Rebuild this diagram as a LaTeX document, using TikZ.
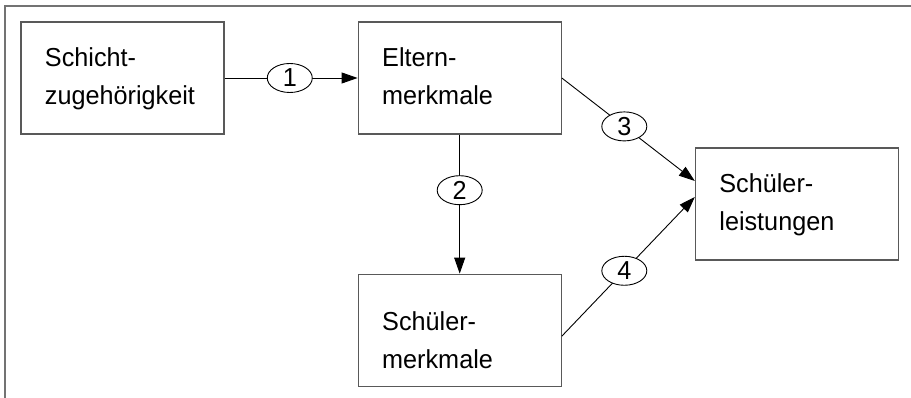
\documentclass[tikz,border=0pt]{standalone}
\usepackage{fontspec}
\setmainfont{Liberation Sans}[FakeStretch=0.97]
\usetikzlibrary{positioning,shapes.geometric,arrows.meta}

\newcommand{\diagfont}{\fontsize{26}{38}\selectfont}

\begin{document}
\begin{tikzpicture}[
    x=1pt, y=1pt,
    node distance=133pt,
    box/.style={rectangle, draw=black!65, line width=1.2pt, minimum width=203pt, minimum height=112pt,
        inner xsep=24pt, text width=155pt, align=left, font=\diagfont,
        execute at begin node=\strut, execute at end node=\strut},
    lowbox/.style={box, execute at begin node=\rule{0pt}{49.4pt}},
    num/.style={ellipse, draw, fill=white, line width=0.9pt, minimum width=45pt, minimum height=29pt,
        inner sep=0pt, font=\diagfont},
    arrow/.style={-{Triangle[length=16pt,width=11pt]}, line width=0.9pt},
    frame/.style={draw=black!55, line width=1.6pt}
]
    \useasboundingbox (0,0) rectangle (911,398);

    % Frame
    \draw[frame] (5,0) -- (5,392) -- (911,392);

    % Boxes
    \node[box] (schicht) at (122.5,320) {Schicht-\\zugehörigkeit};
    \node[box, right=of schicht] (eltern) {Eltern-\\merkmale};
    \node[lowbox, below=139pt of eltern] (schueler) {Schüler-\\merkmale};
    \node[box, right=of eltern, yshift=-126pt] (leistung) {Schüler-\\leistungen};

    % Arrows
    \draw[arrow] (schicht) -- node[num, pos=0.49] {1} (eltern);
    \draw[arrow] (eltern) -- node[num, pos=0.40] {2} (schueler);
    \draw[arrow] (eltern.east) -- node[num, pos=0.47] {3} ([yshift=23pt]leistung.west);
    \draw[arrow] ([yshift=-6pt]schueler.east) -- node[num, pos=0.47] {4} ([yshift=7pt]leistung.west);
\end{tikzpicture}
\end{document}
